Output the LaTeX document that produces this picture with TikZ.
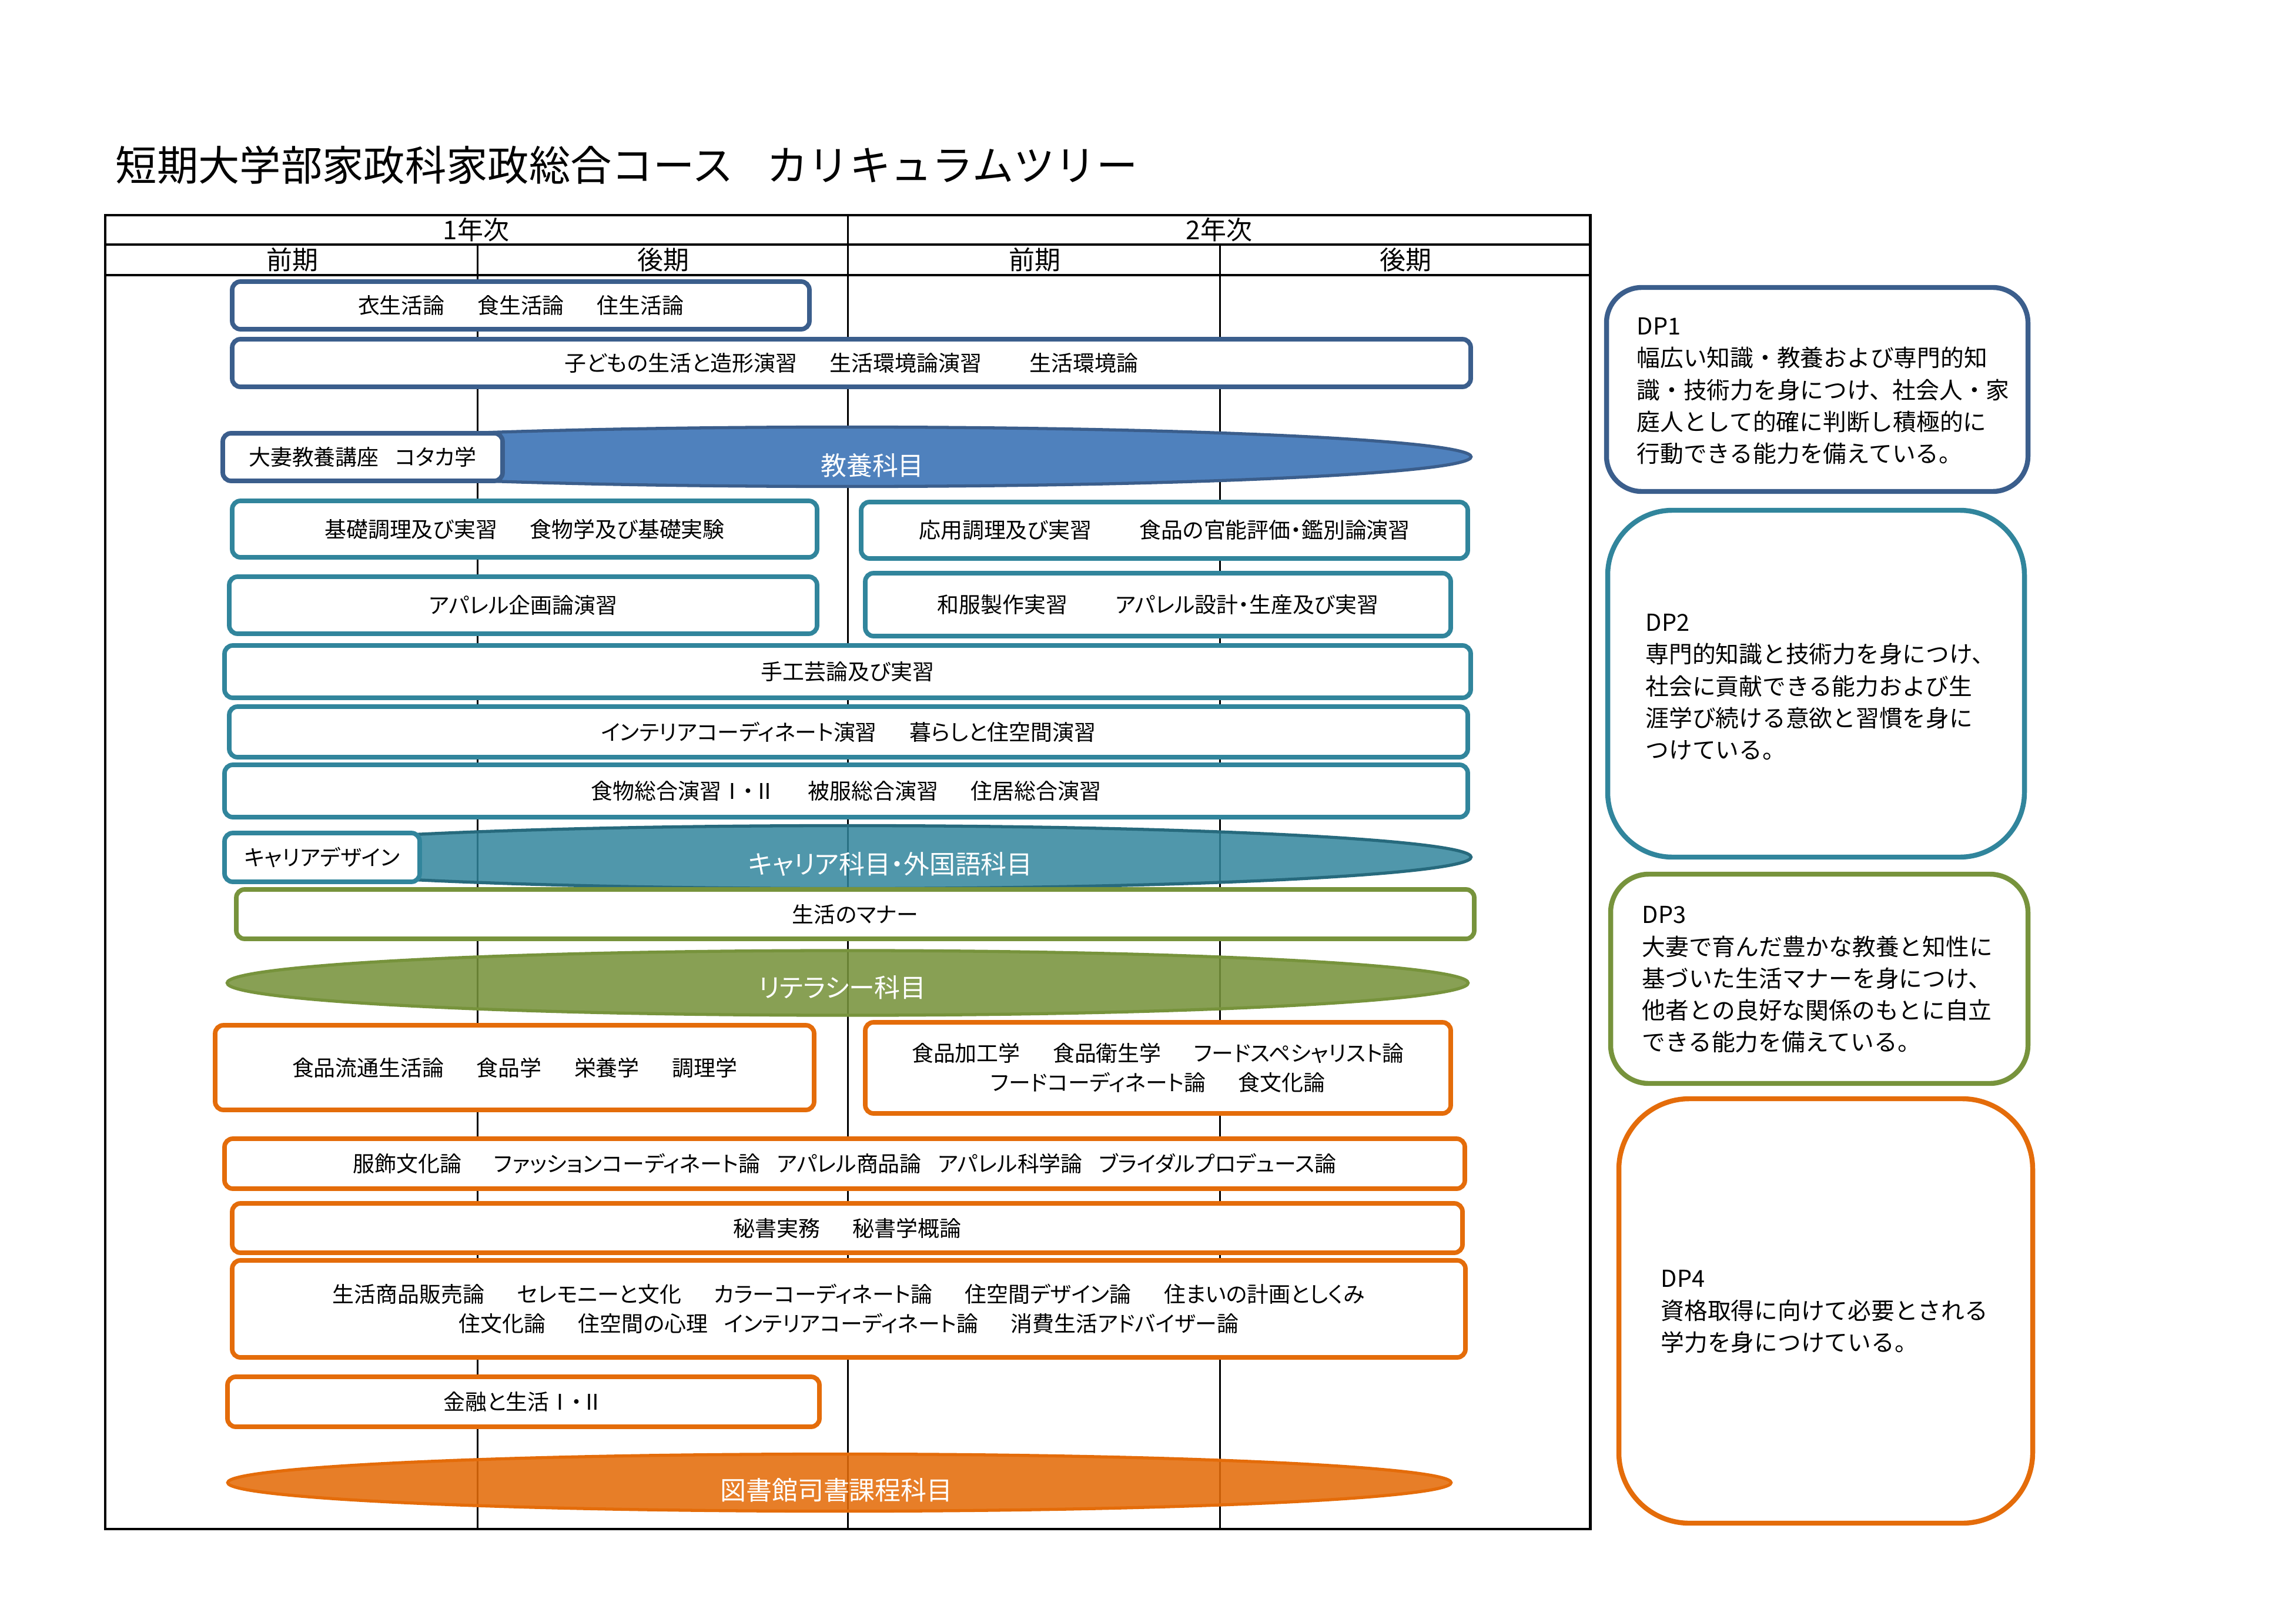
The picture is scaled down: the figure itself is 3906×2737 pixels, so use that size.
\documentclass[tikz,border=0pt]{standalone}
\usepackage{fontspec}
\setmainfont{Noto Sans CJK JP}
\newfontfamily\tblfont{Noto Sans CJK JP}[RawFeature=+palt]
\usetikzlibrary{shapes.geometric,fit}
\definecolor{kblue}{RGB}{59,94,140}
\definecolor{kbluefill}{RGB}{79,129,189}
\definecolor{kteal}{RGB}{49,133,156}
\definecolor{kgreen}{RGB}{119,147,60}
\definecolor{korange}{RGB}{228,108,10}
\newcommand{\kgap}{\hspace{1.5em}}
\newcommand{\kwide}{\hspace{2.2em}}
\newcommand{\knar}{\hspace{0.75em}}

\begin{document}
\begin{tikzpicture}[x=0.01cm, y=-0.01cm,
    course/.style={rectangle, rounded corners=4pt, line width=2.2pt, fill=white, inner sep=0pt},
    ctext/.style={inner sep=0pt, align=center, font=\tblfont\fontsize{10.5pt}{14.2pt}\selectfont},
    bluebox/.style={course, draw=kblue},
    tealbox/.style={course, draw=kteal},
    greenbox/.style={course, draw=kgreen},
    orangebox/.style={course, draw=korange},
    band/.style={ellipse, inner sep=0pt, line width=1.5pt},
    bandtext/.style={text=white, inner sep=0pt, font=\tblfont\fontsize{12.5pt}{15pt}\selectfont},
    head/.style={inner sep=0pt, font=\tblfont\fontsize{12.5pt}{15pt}\selectfont},
    dpbox/.style={rectangle, line width=2.4pt, fill=white, inner sep=0pt},
    dptext/.style={anchor=north west, align=left, inner sep=0pt, font=\fontsize{11.3pt}{15.4pt}\selectfont},
    colline/.style={line width=0.85pt},
    tblframe/.style={line width=1.4pt}
  ]
  \useasboundingbox (0,0) rectangle (3906,2737);

  \node[anchor=west, inner sep=0pt, font=\fontsize{20pt}{24pt}\selectfont] (title) at (196,281) {短期大学部家政科家政総合コース\hspace{0.8em}カリキュラムツリー};

  % table
  \draw[colline] (1442,366) -- (1442,2601);
  \draw[colline] (812,416) -- (812,2601);
  \draw[colline] (2075,416) -- (2075,2601);
  \draw[tblframe] (179,366) rectangle (2705,2601);
  \draw[tblframe] (179,416) -- (2705,416);
  \draw[tblframe] (179,468) -- (2705,468);

  \node[head] (y1) at (810,391) {1年次};
  \node[head] (y2) at (2074,391) {2年次};
  \node[head] (s1) at (497,442) {前期};
  \node[head] (s2) at (1128,442) {後期};
  \node[head] (s3) at (1760,442) {前期};
  \node[head] (s4) at (2391,442) {後期};

  % blue
  \node[bluebox, fit={(395,479) (1377,560)}] (ishoku) {};
  \node[ctext] (ishokuT) at (ishoku) {衣生活論\kgap 食生活論\kgap 住生活論};
  \node[bluebox, fit={(395,577) (2502,658)}] (kodomo) {};
  \node[ctext] (kodomoT) at (kodomo) {子どもの生活と造形演習\kgap 生活環境論演習\kwide 生活環境論};
  \node[band, draw=kblue, fill=kbluefill, minimum width=21.22cm, minimum height=1.01cm] (kyoyo) at (1441,777) {};
  \node[bluebox, fit={(379,737) (855,818)}] (otsuma) {};
  \node[ctext] (otsumaT) at (otsuma) {大妻教養講座\knar コタカ学};
  \node[bandtext] (kyoyoT) at (1484,792) {教養科目};

  % teal
  \node[tealbox, fit={(395,852) (1390,948)}] (kiso) {};
  \node[ctext] (kisoT) at (kiso) {基礎調理及び実習\kgap 食物学及び基礎実験};
  \node[tealbox, fit={(1465,854) (2497,950)}] (oyo) {};
  \node[ctext] (oyoT) at (oyo) {応用調理及び実習\kwide 食品の官能評価・鑑別論演習};
  \node[tealbox, fit={(390,981) (1390,1078)}] (kikaku) {};
  \node[ctext] (kikakuT) at (kikaku) {アパレル企画論演習};
  \node[tealbox, fit={(1472,975) (2468,1082)}] (wafuku) {};
  \node[ctext] (wafukuT) at (wafuku) {和服製作実習\kwide アパレル設計・生産及び実習};
  \node[tealbox, fit={(382,1098) (2502,1187)}] (kogei) {};
  \node[ctext] (kogeiT) at (kogei) {手工芸論及び実習};
  \node[tealbox, fit={(390,1202) (2497,1288)}] (interior) {};
  \node[ctext] (interiorT) at (interior) {インテリアコーディネート演習\kgap 暮らしと住空間演習};
  \node[tealbox, fit={(382,1301) (2497,1390)}] (sogo) {};
  \node[ctext] (sogoT) at (sogo) {食物総合演習Ⅰ・Ⅱ\kgap 被服総合演習\kgap 住居総合演習};
  \node[band, draw=kteal!80!black, fill=kteal, fill opacity=0.85, minimum width=21.2cm, minimum height=1.07cm] (career) at (1442,1458) {};
  \node[tealbox, fit={(382,1417) (714,1500)}] (design) {};
  \node[ctext] (designT) at (design) {キャリアデザイン};
  \node[bandtext] (careerT) at (1515,1470) {キャリア科目・外国語科目};

  % green
  \node[greenbox, fit={(402,1513) (2508,1597)}] (manner) {};
  \node[ctext] (mannerT) at (manner) {生活のマナー};
  \node[band, draw=kgreen, fill=kgreen, fill opacity=0.88, minimum width=21.1cm, minimum height=1.1cm] (literacy) at (1442,1672) {};
  \node[bandtext] (literacyT) at (1433,1680) {リテラシー科目};

  % orange
  \node[orangebox, fit={(366,1744) (1385,1888)}] (ryutsu) {};
  \node[ctext] (ryutsuT) at (ryutsu) {食品流通生活論\kgap 食品学\kgap 栄養学\kgap 調理学};
  \node[orangebox, fit={(1472,1739) (2468,1894)}] (kako) {};
  \node[ctext] (kakoT) at (kako) {食品加工学\kgap 食品衛生学\kgap フードスペシャリスト論\\フードコーディネート論\kgap 食文化論};
  \node[orangebox, fit={(382,1937) (2492,2022)}] (fashion) {};
  \node[ctext] (fashionT) at (fashion) {服飾文化論\kgap ファッションコーディネート論\knar アパレル商品論\knar アパレル科学論\knar ブライダルプロデュース論};
  \node[orangebox, fit={(395,2047) (2488,2131)}] (hisho) {};
  \node[ctext] (hishoT) at (hisho) {秘書実務\kgap 秘書学概論};
  \node[orangebox, fit={(395,2144) (2493,2309)}] (hanbai) {};
  \node[ctext] (hanbaiT) at (hanbai) {生活商品販売論\kgap セレモニーと文化\kgap カラーコーディネート論\kgap 住空間デザイン論\kgap 住まいの計画としくみ\\住文化論\kgap 住空間の心理\knar インテリアコーディネート論\kgap 消費生活アドバイザー論};
  \node[orangebox, fit={(387,2342) (1394,2427)}] (kinyu) {};
  \node[ctext] (kinyuT) at (kinyu) {金融と生活Ⅰ・Ⅱ};
  \node[band, draw=korange, fill=korange, fill opacity=0.88, minimum width=20.8cm, minimum height=0.97cm] (library) at (1428,2522) {};
  \node[bandtext] (libraryT) at (1423,2535) {図書館司書課程科目};

  % diploma policies
  \node[dpbox, draw=kblue, rounded corners=0.6cm, fit={(2733,489) (3450,836)}] (dp1) {};
  \node[dptext] (dp1t) at (2784,540) {DP1\\幅広い知識・教養および専門的知\\識・技術力を身につけ、社会人・家\\庭人として的確に判断し積極的に\\行動できる能力を備えている。};
  \node[dpbox, draw=kteal, rounded corners=1.1cm, fit={(2735,868) (3444,1458)}] (dp2) {};
  \node[dptext] (dp2t) at (2799,1044) {DP2\\専門的知識と技術力を身につけ、\\社会に貢献できる能力および生\\涯学び続ける意欲と習慣を身に\\つけている。};
  \node[dpbox, draw=kgreen, rounded corners=0.65cm, fit={(2740,1487) (3450,1843)}] (dp3) {};
  \node[dptext] (dp3t) at (2793,1541) {DP3\\大妻で育んだ豊かな教養と知性に\\基づいた生活マナーを身につけ、\\他者との良好な関係のもとに自立\\できる能力を備えている。};
  \node[dpbox, draw=korange, rounded corners=1.2cm, fit={(2754,1869) (3458,2591)}] (dp4) {};
  \node[dptext] (dp4t) at (2825,2160) {DP4\\資格取得に向けて必要とされる\\学力を身につけている。};
\end{tikzpicture}
\end{document}
